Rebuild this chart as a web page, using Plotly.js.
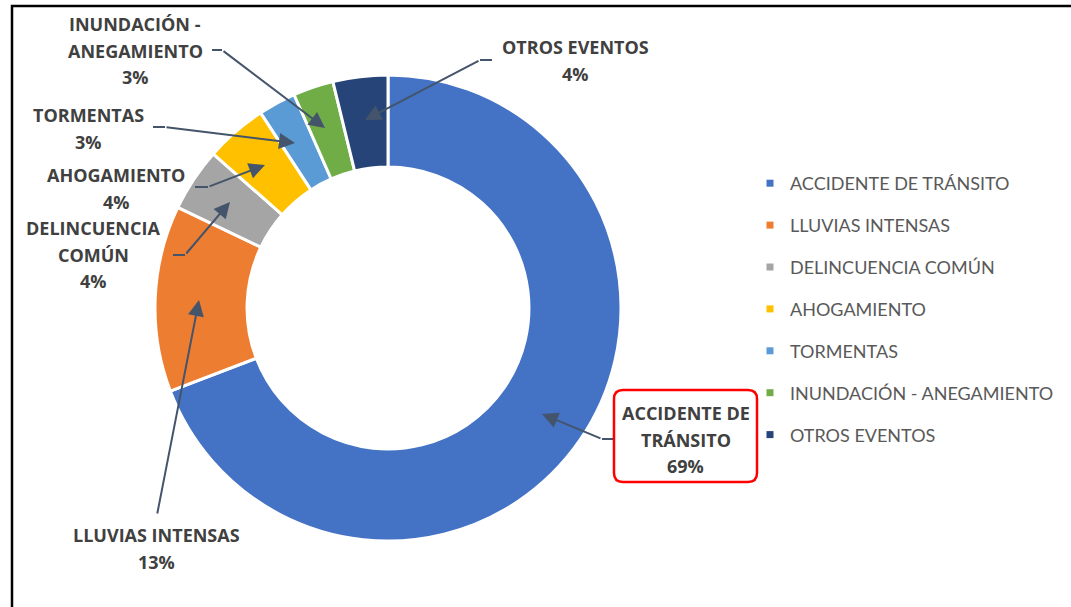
<!DOCTYPE html>
<html>
<head>
<meta charset="utf-8">
<script src="https://cdn.plot.ly/plotly-3.0.1.min.js"></script>
<style>html,body{margin:0;padding:0;background:#fff;}#chart{width:1071px;height:607px;}</style>
</head>
<body>
<div id="chart"></div>
<script>
// ---- data ----
const categories = ['ACCIDENTE DE TRÁNSITO', 'LLUVIAS INTENSAS', 'DELINCUENCIA COMÚN', 'AHOGAMIENTO', 'TORMENTAS', 'INUNDACIÓN - ANEGAMIENTO', 'OTROS EVENTOS'];
const values = [69.2, 12.9, 4.4, 4.3, 2.6, 2.8, 3.8];
const colors = ['#4472C4', '#ED7D31', '#A5A5A5', '#FFC000', '#5B9BD5', '#70AD47', '#264478'];
const calloutLines = [
  ['ACCIDENTE DE', 'TRÁNSITO'],
  ['LLUVIAS INTENSAS'],
  ['DELINCUENCIA', 'COMÚN'],
  ['AHOGAMIENTO'],
  ['TORMENTAS'],
  ['INUNDACIÓN -', 'ANEGAMIENTO'],
  ['OTROS EVENTOS']
];

// ---- layout helpers (pixel -> paper) ----
const W = 1071, H = 607;
const px = x => x / W;
const py = y => 1 - y / H;

const total = values.reduce((a, b) => a + b, 0);
const pct = values.map(v => Math.round(v / total * 100) + '%');

// callout placement: text center x, first line y, arrow tip, bend, stub end
const callouts = [
  {cx: 686, y0: 413, tip: [542, 414], bend: [602, 439], stub: [614, 439]},
  {cx: 156, y0: 535, tip: [199, 300], bend: [157, 515], stub: null},
  {cx: 93, y0: 228, tip: [230, 202], bend: [185, 255], stub: [173, 255]},
  {cx: 116, y0: 175, tip: [265, 165], bend: [208, 187], stub: [195, 187]},
  {cx: 88, y0: 115, tip: [295, 143], bend: [165, 127], stub: [153, 127]},
  {cx: 135, y0: 24, tip: [325, 128], bend: [222, 50], stub: [212, 50]},
  {cx: 575, y0: 47, tip: [365, 120], bend: [480, 60], stub: [492, 60]}
];
const lineGap = 26.5;
const arrowColor = '#44546A';
const textFont = {family: '"Open Sans", Lato, sans-serif', size: 18, color: '#404040', weight: 700};

const annotations = [];
const shapes = [];

callouts.forEach((c, i) => {
  const lines = calloutLines[i].concat([pct[i]]);
  lines.forEach((t, k) => {
    annotations.push({
      xref: 'paper', yref: 'paper', x: px(c.cx), y: py(c.y0 + k * lineGap),
      xanchor: 'center', yanchor: 'middle', text: t, showarrow: false, font: textFont
    });
  });
  annotations.push({
    xref: 'paper', yref: 'paper', x: px(c.tip[0]), y: py(c.tip[1]),
    ax: c.bend[0] - c.tip[0], ay: c.bend[1] - c.tip[1],
    text: '', showarrow: true, arrowhead: 2, arrowsize: 1.6, arrowwidth: 2,
    arrowcolor: arrowColor, standoff: 0, startstandoff: 0
  });
  if (c.stub) {
    shapes.push({type: 'line', xref: 'paper', yref: 'paper',
      x0: px(c.bend[0]), y0: py(c.bend[1]), x1: px(c.stub[0]), y1: py(c.stub[1]),
      line: {color: arrowColor, width: 2}});
  }
});

// rounded red box for the main callout
(function () {
  const l = 614, r = 757, t = 390, b = 482, rr = 9;
  const P = (x, y) => px(x) + ',' + py(y);
  const path = 'M' + P(l + rr, t) + ' L' + P(r - rr, t) + ' Q' + P(r, t) + ' ' + P(r, t + rr) +
    ' L' + P(r, b - rr) + ' Q' + P(r, b) + ' ' + P(r - rr, b) +
    ' L' + P(l + rr, b) + ' Q' + P(l, b) + ' ' + P(l, b - rr) +
    ' L' + P(l, t + rr) + ' Q' + P(l, t) + ' ' + P(l + rr, t) + ' Z';
  shapes.push({type: 'path', xref: 'paper', yref: 'paper', path: path,
    line: {color: '#FF0000', width: 2.5}, layer: 'above'});
})();

// outer chart frame
shapes.push({type: 'rect', xref: 'paper', yref: 'paper',
  x0: px(12), y0: py(6), x1: px(1090), y1: py(630),
  line: {color: '#000000', width: 2.5}});

const traces = [{
  type: 'pie',
  labels: categories,
  values: values,
  sort: false,
  direction: 'clockwise',
  rotation: 0,
  hole: 0.605,
  textinfo: 'none',
  hoverinfo: 'label+percent',
  showlegend: false,
  marker: {colors: colors, line: {color: '#FFFFFF', width: 3}},
  domain: {x: [px(155), px(621)], y: [py(541), py(75)]}
}];

// legend entries
categories.forEach((c, i) => {
  traces.push({
    type: 'scatter', mode: 'markers', x: [null], y: [null], name: c,
    legendgroup: 'g' + i, showlegend: true,
    marker: {symbol: 'square', size: 7, color: colors[i]}
  });
});

const layout = {
  width: W, height: H,
  margin: {l: 0, r: 0, t: 0, b: 0},
  paper_bgcolor: '#FFFFFF', plot_bgcolor: 'rgba(0,0,0,0)',
  xaxis: {visible: false}, yaxis: {visible: false},
  showlegend: true,
  legend: {
    x: px(750), y: py(165), xanchor: 'left', yanchor: 'top',
    traceorder: 'grouped', tracegroupgap: 15.5,
    font: {family: 'Lato, "Open Sans", sans-serif', size: 18, color: '#595959'},
    bgcolor: 'rgba(0,0,0,0)'
  },
  annotations: annotations,
  shapes: shapes
};

Plotly.newPlot('chart', traces, layout, {displayModeBar: false, staticPlot: true});
</script>
</body>
</html>
